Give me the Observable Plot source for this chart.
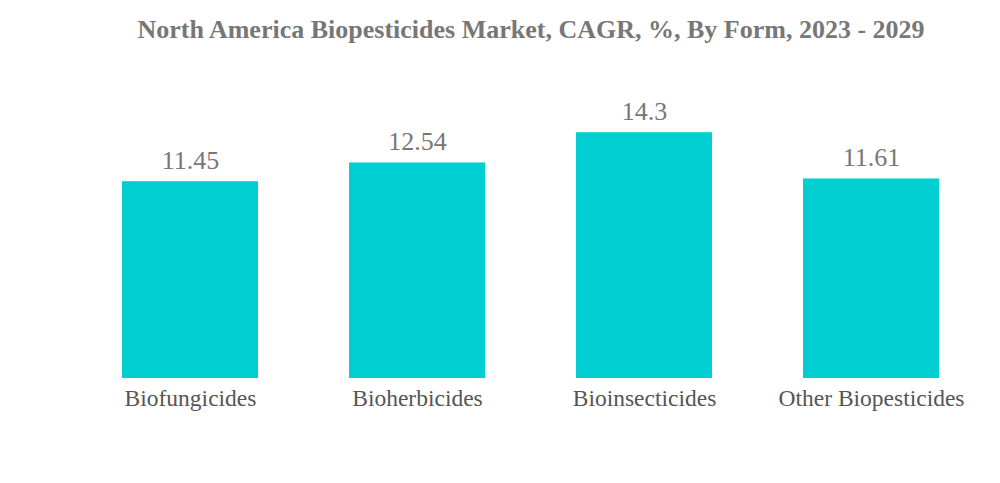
<!DOCTYPE html>
<html>
<head>
<meta charset="utf-8">
<script src="https://cdn.jsdelivr.net/npm/d3@7"></script>
<script src="https://cdn.jsdelivr.net/npm/@observablehq/plot@0.6"></script>
<style>
  html, body { margin: 0; padding: 0; background: #fff; }
  #title { height: 60px; width: 1000px; box-sizing: border-box; padding-left: 62px; text-align: center; font-family: "Liberation Serif", serif; font-weight: bold; font-size: 26px; color: #777; line-height: 60px; }
</style>
</head>
<body>
<div id="title">North America Biopesticides Market, CAGR, %, By Form, 2023 - 2029</div>
<div id="chart"></div>
<script>
const categories = ["Biofungicides", "Bioherbicides", "Bioinsecticides", "Other Biopesticides"];
const values = [11.45, 12.54, 14.3, 11.61];
const data = categories.map((c, i) => ({category: c, value: values[i]}));

const chart = Plot.plot({
  width: 1000,
  height: 423,
  marginLeft: 76,
  marginRight: 14,
  marginTop: 43,
  marginBottom: 105,
  style: {fontFamily: "'Liberation Serif', serif", background: "#fff"},
  x: {domain: categories, paddingInner: 0.4, paddingOuter: 0.2, label: null},
  y: {domain: [0, 16], axis: null},
  marks: [
    Plot.barY(data, {x: "category", y: "value", fill: "#00CED1"}),
    Plot.text(data, {x: "category", y: "value", text: d => String(d.value), dy: -21, fontSize: 26, fill: "#777"}),
    Plot.axisX({tickSize: 0, tickPadding: 11, fontSize: 23.5, color: "#555", label: null})
  ]
});
document.getElementById("chart").appendChild(chart);
</script>
</body>
</html>
